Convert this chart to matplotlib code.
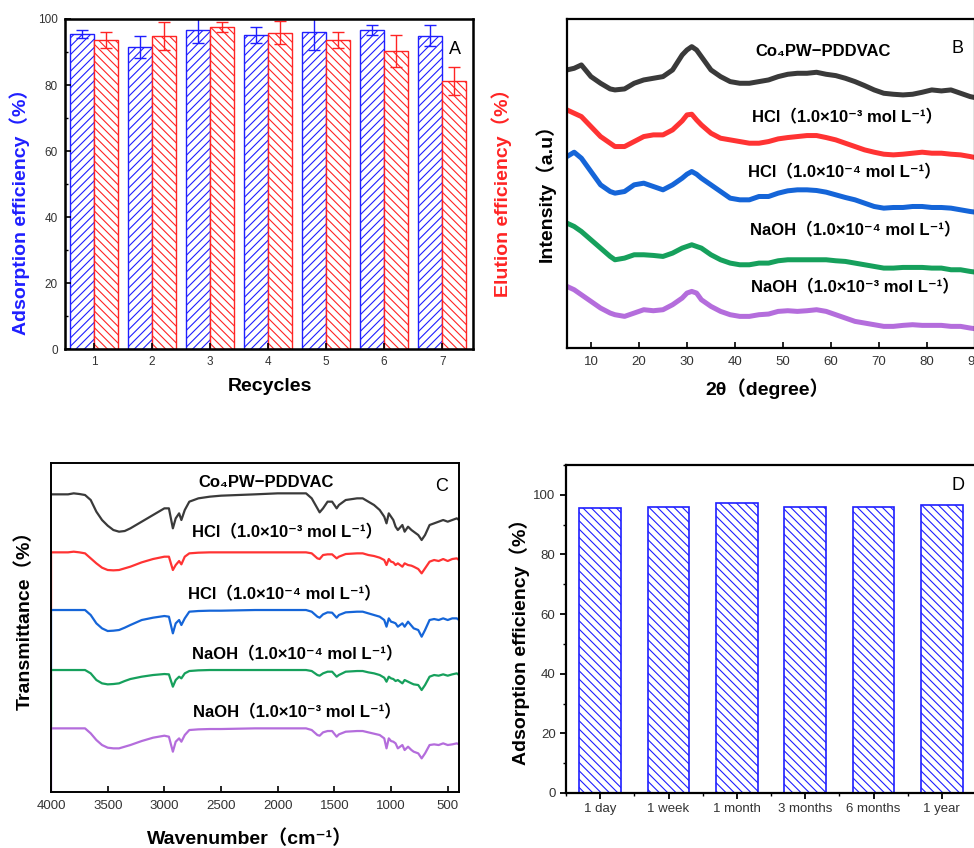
import numpy as np
import matplotlib
matplotlib.use("Agg")
import matplotlib.pyplot as plt
from matplotlib.ticker import MultipleLocator

plt.rcParams['font.family'] = ['Liberation Sans', 'DejaVu Sans', 'Noto Sans CJK SC']
plt.rcParams['hatch.linewidth'] = 0.8

# ---- panel A: recycling ----
recycles = [1, 2, 3, 4, 5, 6, 7]
adsorption = [95.5, 91.6, 96.7, 95.1, 96.2, 96.7, 94.9]
adsorption_err = [1.3, 3.3, 3.9, 2.4, 5.6, 1.5, 3.2]
elution = [93.6, 94.9, 97.6, 95.9, 93.6, 90.3, 81.3]
elution_err = [2.4, 4.3, 1.6, 3.4, 2.4, 4.7, 4.3]

# ---- panel B: XRD (intensity, a.u., offset curves) ----
two_theta = [5, 6.5, 8, 10, 12, 14, 15, 17, 19, 21, 23, 25, 27, 29, 30, 31, 32, 33,
             35, 37, 39, 41, 43, 45, 47, 49, 51, 53, 55, 57, 59, 61, 63, 65, 67, 69,
             71, 73, 75, 77, 79, 81, 83, 85, 87, 89, 90]
xrd_fresh = [835, 840, 850, 815, 795, 778, 775, 778, 795, 805, 810, 815, 835, 880, 895, 905,
             895, 875, 835, 815, 800, 795, 795, 800, 805, 815, 822, 825, 825, 828, 822, 818,
             810, 800, 788, 775, 765, 762, 760, 762, 768, 775, 772, 775, 765, 755, 752]
xrd_hcl3 = [715, 705, 695, 665, 635, 615, 605, 605, 620, 635, 640, 640, 655, 682, 700, 702,
            685, 670, 645, 630, 625, 620, 615, 615, 620, 628, 632, 635, 638, 638, 632, 625,
            615, 605, 595, 588, 582, 580, 582, 585, 588, 585, 585, 582, 580, 575, 572]
xrd_hcl4 = [575, 588, 570, 530, 490, 470, 465, 470, 490, 495, 485, 475, 490, 510, 522, 530,
            522, 510, 490, 470, 450, 445, 445, 455, 455, 465, 472, 475, 475, 473, 468, 460,
            452, 445, 435, 425, 420, 422, 422, 425, 425, 422, 422, 420, 415, 410, 408]
xrd_naoh4 = [375, 365, 350, 325, 300, 275, 265, 270, 280, 280, 278, 275, 285, 300, 305, 310,
             305, 300, 280, 265, 255, 250, 250, 255, 255, 262, 265, 265, 265, 265, 265, 262,
             260, 255, 250, 245, 240, 240, 242, 242, 242, 240, 240, 235, 235, 230, 228]
xrd_naoh3 = [185, 175, 160, 140, 120, 105, 100, 95, 105, 115, 112, 115, 130, 150, 165, 170,
             165, 145, 125, 110, 100, 95, 95, 100, 102, 110, 112, 110, 112, 115, 110, 100,
             90, 80, 75, 70, 65, 65, 68, 70, 68, 68, 68, 65, 65, 60, 58]

# ---- panel C: FTIR (transmittance, a.u., offset curves) ----
wavenumber = [4000, 3850, 3800, 3750, 3700, 3650, 3600, 3550, 3500, 3450, 3400, 3350, 3300,
              3200, 3100, 3000, 2960, 2925, 2900, 2870, 2850, 2820, 2780, 2700, 2600, 2500,
              2200, 2000, 1800, 1750, 1700, 1650, 1630, 1600, 1560, 1520, 1480, 1460, 1400,
              1300, 1250, 1200, 1150, 1100, 1060, 1040, 1020, 1000, 980, 960, 940, 900, 880,
              850, 820, 800, 760, 730, 700, 660, 620, 580, 540, 500, 460, 420, 400]
ir_fresh = [882, 882, 885, 883, 880, 865, 830, 805, 788, 775, 770, 772, 780, 800, 820, 840,
            840, 780, 810, 825, 805, 835, 860, 870, 875, 878, 882, 885, 885, 885, 870, 840,
            828, 840, 860, 860, 840, 850, 865, 870, 870, 860, 850, 835, 815, 795, 825, 815,
            805, 785, 775, 790, 770, 785, 775, 770, 760, 745, 760, 790, 795, 800, 805, 800,
            805, 810, 805]
ir_hcl3 = [708, 708, 710, 708, 705, 690, 675, 662, 655, 654, 655, 660, 665, 678, 688, 695,
           695, 655, 670, 682, 672, 695, 705, 707, 708, 708, 708, 708, 708, 708, 705, 690,
           688, 700, 702, 702, 690, 695, 703, 705, 705, 700, 697, 692, 685, 670, 688, 680,
           678, 670, 675, 665, 675, 670, 668, 665, 658, 645, 660, 680, 685, 682, 688, 682,
           688, 690, 685]
ir_hcl4 = [535, 535, 535, 535, 535, 520, 495, 480, 472, 473, 475, 482, 490, 505, 512, 517,
           515, 465, 495, 505, 490, 510, 530, 532, 533, 533, 535, 535, 535, 535, 530, 515,
           512, 522, 528, 527, 512, 520, 528, 530, 530, 525, 520, 515, 505, 485, 510, 500,
           498, 495, 485, 495, 485, 500, 488, 480, 475, 455, 475, 505, 508, 505, 510, 505,
           510, 510, 505]
ir_naoh4 = [355, 355, 355, 355, 355, 345, 325, 315, 312, 313, 315, 322, 328, 335, 340, 343,
            342, 305, 325, 335, 330, 345, 352, 354, 355, 355, 355, 355, 355, 355, 352, 340,
            338, 345, 350, 350, 335, 340, 350, 352, 352, 348, 345, 340, 332, 320, 335, 330,
            328, 322, 325, 315, 325, 320, 315, 312, 310, 295, 310, 335, 340, 338, 342, 338,
            342, 345, 340]
ir_naoh3 = [180, 180, 180, 180, 180, 165, 145, 130, 122, 120, 120, 125, 130, 142, 152, 158,
            155, 110, 140, 150, 140, 160, 175, 177, 178, 178, 180, 180, 180, 180, 175, 160,
            158, 168, 172, 172, 155, 162, 170, 172, 172, 168, 164, 160, 150, 120, 150, 142,
            140, 135, 120, 130, 115, 125, 115, 110, 105, 90, 105, 130, 132, 130, 135, 130,
            132, 135, 132]
# first recorded point of each spectrum at 4000 cm-1 (vertical start segment)
ir_start = [None, 535, 355, 180, -11]

# ---- panel D: storage stability ----
storage = ['1 day', '1 week', '1 month', '3 months', '6 months', '1 year']
storage_eff = [95.5, 96.0, 97.3, 95.8, 95.8, 96.5]

sample_labels = ['Co\u2084PW\u2212PDDVAC',
                 'HCl\uff081.0\u00d710\u207b\u00b3 mol L\u207b\u00b9\uff09',
                 'HCl\uff081.0\u00d710\u207b\u2074 mol L\u207b\u00b9\uff09',
                 'NaOH\uff081.0\u00d710\u207b\u2074 mol L\u207b\u00b9\uff09',
                 'NaOH\uff081.0\u00d710\u207b\u00b3 mol L\u207b\u00b9\uff09']
curve_colors = ['#3a3a3a', '#ff3333', '#1565d8', '#16a05c', '#b46ddc']

BLUE = '#1f1fff'
RED = '#ff2424'
TICK_COLOR = '#333333'
LABEL_SIZE = 14

fig = plt.figure(figsize=(9.74, 8.48), dpi=100)

axA = fig.add_axes([0.0667, 0.5884, 0.4189, 0.3892])
axB = fig.add_axes([0.5821, 0.5896, 0.4189, 0.3880])
axC = fig.add_axes([0.0524, 0.0660, 0.4189, 0.3880])
axD = fig.add_axes([0.5811, 0.0649, 0.4210, 0.3868])


def place_ylabel(ax, text, x, y, color='black', size=LABEL_SIZE):
    ax.set_ylabel(text, fontsize=size, fontweight='bold', color=color)
    ax.yaxis.set_label_coords(x, y)
    ax.yaxis.label.set_verticalalignment('center')


def place_xlabel(ax, text, x, y, size=LABEL_SIZE):
    ax.set_xlabel(text, fontsize=size, fontweight='bold')
    ax.xaxis.set_label_coords(x, y)
    ax.xaxis.label.set_verticalalignment('center')


# ======================== A ========================
x = np.array(recycles)
w = 0.41
axA.bar(x - w / 2, adsorption, w, facecolor='white', edgecolor=BLUE, hatch='////', lw=1.0)
axA.bar(x + w / 2, elution, w, facecolor='white', edgecolor=RED, hatch='\\\\\\\\', lw=1.0)
axA.errorbar(x - w / 2, adsorption, yerr=adsorption_err, fmt='none', ecolor=BLUE,
             elinewidth=1.0, capsize=4, capthick=1.0)
axA.errorbar(x + w / 2, elution, yerr=elution_err, fmt='none', ecolor=RED,
             elinewidth=1.0, capsize=4, capthick=1.0)
axA.set_xlim(0.5, 7.53)
axA.set_ylim(0, 100)
axA.set_xticks(recycles)
axA.yaxis.set_major_locator(MultipleLocator(20))
axA.yaxis.set_minor_locator(MultipleLocator(10))
axA.tick_params(which='both', direction='in', labelsize=8.5, labelcolor=TICK_COLOR, pad=5)
axA.tick_params(which='major', length=4, width=1.2)
axA.tick_params(which='minor', length=2.5, width=1.0)
axA.tick_params(axis='x', which='minor', bottom=False)
for s in axA.spines.values():
    s.set_linewidth(1.8)
axA.text(0.956, 0.909, 'A', transform=axA.transAxes, fontsize=13, ha='center', va='center')
place_ylabel(axA, 'Adsorption efficiency\uff08%\uff09', -0.110, 0.43, color=BLUE)
place_xlabel(axA, 'Recycles', 0.502, -0.115)

axA2 = axA.twinx()
axA2.set_ylim(0, 100)
axA2.set_yticks([])
place_ylabel(axA2, 'Elution efficiency\uff08%\uff09', 1.071, 0.488, color=RED)

# ======================== B ========================
for vals, col in zip([xrd_fresh, xrd_hcl3, xrd_hcl4, xrd_naoh4, xrd_naoh3], curve_colors):
    axB.plot(two_theta, vals, color=col, lw=3.6, solid_joinstyle='round')
axB.set_xlim(5, 90)
axB.set_ylim(0, 988)
axB.set_xticks(range(10, 100, 10))
axB.set_yticks([])
axB.tick_params(axis='x', direction='in', length=4, width=1.2, labelsize=9.5,
                labelcolor=TICK_COLOR, pad=6)
for s in axB.spines.values():
    s.set_linewidth(1.6)
b_label_pos = [(0.627, 0.900), (0.686, 0.702), (0.681, 0.535), (0.706, 0.359), (0.706, 0.185)]
for (lx, ly), lab in zip(b_label_pos, sample_labels):
    axB.text(lx, ly, lab, transform=axB.transAxes, fontsize=12, fontweight='bold',
             ha='center', va='center')
axB.text(0.956, 0.909, 'B', transform=axB.transAxes, fontsize=13, ha='center', va='center')
place_ylabel(axB, 'Intensity\uff08a.u\uff09', -0.054, 0.486)
place_xlabel(axB, '2\u03b8\uff08degree\uff09', 0.49, -0.122)

# ======================== C ========================
ir_sets = [ir_fresh, ir_hcl3, ir_hcl4, ir_naoh4, ir_naoh3]
for vals, start, col in zip(ir_sets, ir_start, curve_colors):
    xs = list(wavenumber)
    ys = list(vals)
    if start is not None:
        xs = [wavenumber[0]] + xs
        ys = [start] + ys
    axC.plot(xs, ys, color=col, lw=1.6)
axC.set_xlim(4000, 400)
axC.set_ylim(-11, 976)
axC.set_xticks(range(4000, 400, -500))
axC.set_yticks([])
axC.tick_params(axis='x', direction='in', length=4, width=1.2, labelsize=9.5,
                labelcolor=TICK_COLOR, pad=6)
for s in axC.spines.values():
    s.set_linewidth(1.4)
c_label_pos = [(0.527, 0.942), (0.578, 0.790), (0.571, 0.602), (0.603, 0.419), (0.603, 0.243)]
for (lx, ly), lab in zip(c_label_pos, sample_labels):
    axC.text(lx, ly, lab, transform=axC.transAxes, fontsize=12, fontweight='bold',
             ha='center', va='center')
axC.text(0.956, 0.930, 'C', transform=axC.transAxes, fontsize=13, ha='center', va='center')
place_ylabel(axC, 'Transmittance\uff08%\uff09', -0.064, 0.535)
place_xlabel(axC, 'Wavenumber\uff08cm\u207b\u00b9\uff09', 0.488, -0.143)

# ======================== D ========================
xd = np.arange(len(storage))
axD.bar(xd, storage_eff, 0.61, facecolor='white', edgecolor=BLUE, hatch='\\\\\\\\', lw=1.2)
axD.set_xlim(-0.5, 5.5)
axD.set_ylim(0, 110)
axD.set_xticks(xd)
axD.set_xticklabels(storage)
axD.xaxis.set_minor_locator(MultipleLocator(1, offset=0.5))
axD.yaxis.set_major_locator(MultipleLocator(20))
axD.yaxis.set_minor_locator(MultipleLocator(10))
axD.set_yticks([0, 20, 40, 60, 80, 100])
axD.tick_params(which='both', direction='out', labelsize=9.5, labelcolor=TICK_COLOR)
axD.tick_params(which='major', length=4, width=1.3)
axD.tick_params(which='minor', length=2.5, width=1.0)
axD.spines['right'].set_visible(False)
for name in ['left', 'bottom', 'top']:
    axD.spines[name].set_linewidth(1.6)
axD.text(0.956, 0.936, 'D', transform=axD.transAxes, fontsize=13, ha='center', va='center')
place_ylabel(axD, 'Adsorption efficiency\uff08%\uff09', -0.112, 0.476)

fig.savefig('out.png', dpi=100)
